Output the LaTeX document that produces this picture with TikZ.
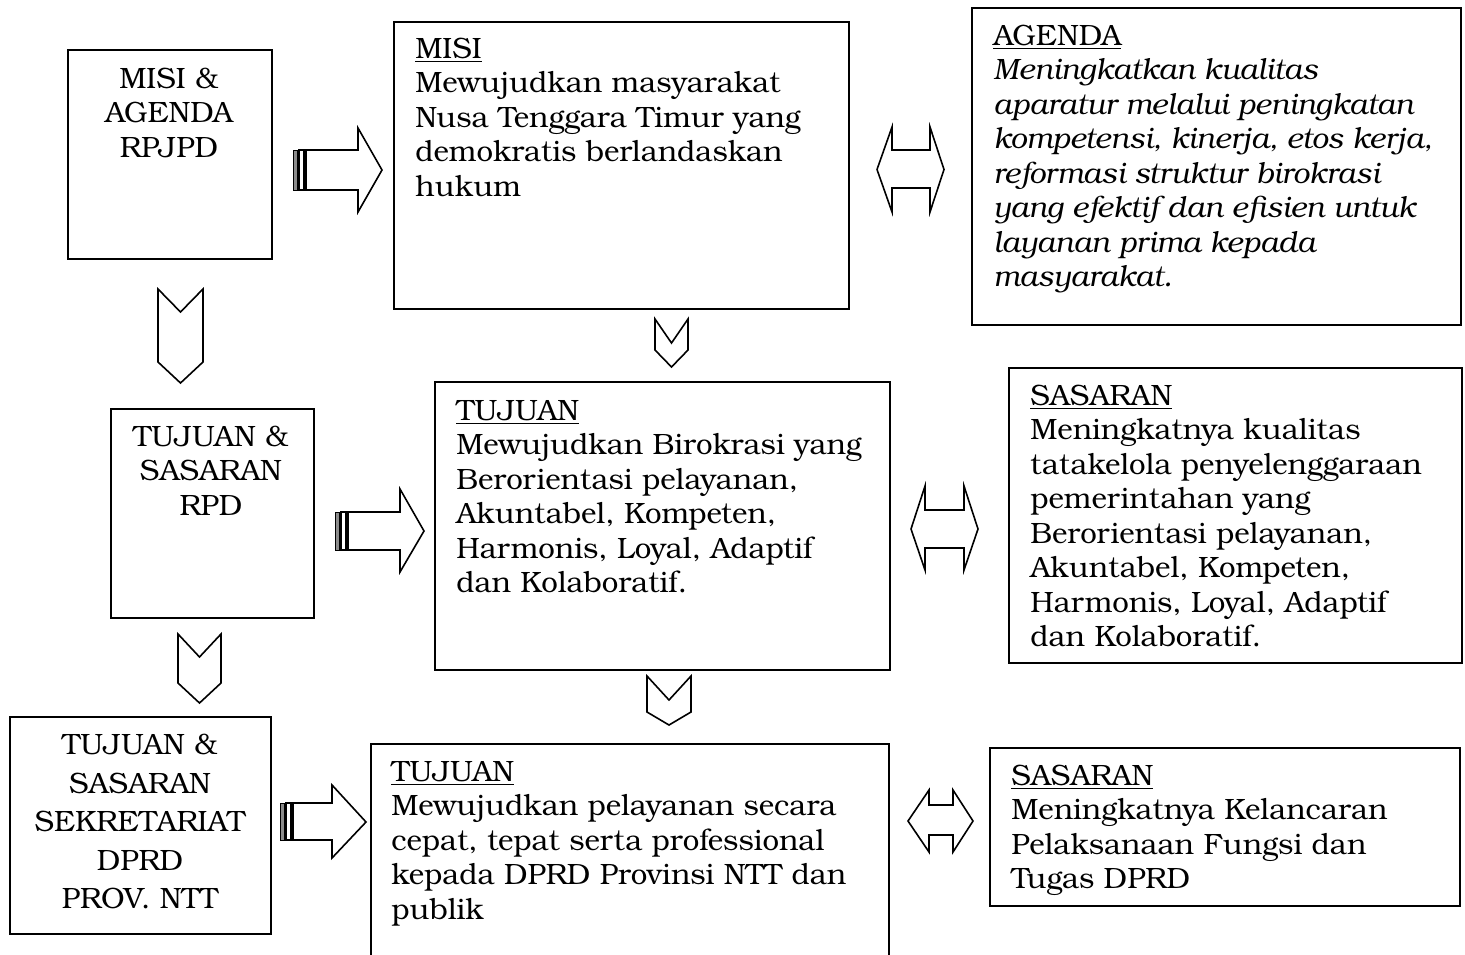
\documentclass[tikz,border=0pt]{standalone}
\usepackage{fontspec}
\setmainfont{texgyrebonum}[Extension=.otf, UprightFont=*-regular, ItalicFont=*-italic, BoldFont=*-bold, BoldItalicFont=*-bolditalic]
\newcommand\mybox[5]{\node[box,anchor=north west,inner sep=0pt,minimum width={(#4-#2)*0.5pt},minimum height={(#5-#3)*0.5pt}] (#1) at (#2,#3) {};}
\newcommand\stripearrow[9]{%
  \draw[stripe] (#1,#3) rectangle ({#1+4},#4);
  \draw[blk] ({#1+6},#3) rectangle ({#1+11},#4);
  \draw[blk] ({#1+13},#3) -- (#5,#3) -- (#5,#6) -- (#8,#9) -- (#5,#7) -- (#5,#4) -- ({#1+13},#4) -- cycle;}
\newcommand\dblarrow[9]{%
  \draw[blk] (#1,#3) -- (#4,#6) -- (#4,#8) -- (#5,#8) -- (#5,#6) -- (#2,#3) -- (#5,#7) -- (#5,#9) -- (#4,#9) -- (#4,#7) -- cycle;}
\newcommand\chev[7]{%
  \draw[blk] (#1,#4) -- (#3,#5) -- (#2,#4) -- (#2,#6) -- (#3,#7) -- (#1,#6) -- cycle;}
\begin{document}
\begin{tikzpicture}[x=0.5pt,y=-0.5pt,
  box/.style={draw, line width=1pt},
  blk/.style={draw, line width=0.8pt, line join=miter, fill=white},
  stripe/.style={draw, line width=0.5pt, fill=black!45},
  txt/.style={anchor=north west, inner sep=0pt, yshift=12.075pt, align=left, font=\fontsize{14.7}{17.25}\selectfont},
  ctxt/.style={anchor=north, inner sep=0pt, yshift=12.075pt, align=center, font=\fontsize{14.7}{17.25}\selectfont},
  ctxtw/.style={anchor=north, inner sep=0pt, yshift=13.51pt, align=center, font=\fontsize{14.7}{19.3}\selectfont}]
\useasboundingbox (0,0) rectangle (1465,954);
\clip (0,0) rectangle (1465,954);
% boxes
\mybox{rpjpd}{67}{49}{271}{258}
\mybox{misi}{393}{21}{848}{308}
\mybox{agenda}{971}{7}{1460}{324}
\mybox{rpd}{110}{408}{313}{617}
\mybox{tujuan}{434}{381}{889}{669}
\mybox{sasaran}{1008}{367}{1461}{662}
\mybox{sekret}{9}{716}{270}{933}
\mybox{tujuanb}{370}{743}{888}{980}
\mybox{sasaranb}{989}{747}{1459}{905}
% texts
\node[ctxt] (t-rpjpd) at (169,88) {\strut MISI \&\\AGENDA\\RPJPD};
\node[txt] (t-misi) at (415,58) {\strut\underline{MISI}\\Mewujudkan masyarakat\\Nusa Tenggara Timur yang\\demokratis berlandaskan\\hukum};
\node[txt] (t-agenda) at (993,45) {\strut\underline{AGENDA}\\\itshape Meningkatkan kualitas\\\itshape aparatur melalui peningkatan\\\itshape kompetensi, kinerja, etos kerja,\\\itshape reformasi struktur birokrasi\\\itshape yang efektif dan efisien untuk\\\itshape layanan prima kepada\\\itshape masyarakat.};
\node[ctxt] (t-rpd) at (211,446) {\strut TUJUAN \&\\SASARAN\\RPD};
\node[txt] (t-tujuan) at (456,420) {\strut\underline{TUJUAN}\\Mewujudkan Birokrasi yang\\Berorientasi pelayanan,\\Akuntabel, Kompeten,\\Harmonis, Loyal, Adaptif\\dan Kolaboratif.};
\node[txt] (t-sasaran) at (1030,405) {\strut\underline{SASARAN}\\Meningkatnya kualitas\\tatakelola penyelenggaraan\\pemerintahan yang\\Berorientasi pelayanan,\\Akuntabel, Kompeten,\\Harmonis, Loyal, Adaptif\\dan Kolaboratif.};
\node[ctxtw] (t-sekret) at (140,754) {\strut TUJUAN \&\\SASARAN\\SEKRETARIAT\\DPRD\\PROV. NTT};
\node[txt] (t-tujuanb) at (391,781) {\strut\underline{TUJUAN}\\Mewujudkan pelayanan secara\\cepat, tepat serta professional\\kepada DPRD Provinsi NTT dan\\publik};
\node[txt] (t-sasaranb) at (1011,785) {\strut\underline{SASARAN}\\Meningkatnya Kelancaran\\Pelaksanaan Fungsi dan\\Tugas DPRD};
% striped right arrows
\stripearrow{293}{0}{150}{190}{358}{128}{212}{382}{170}
\stripearrow{335}{0}{512}{550}{400}{489}{572}{424}{531}
\stripearrow{280}{0}{803}{840}{332}{785}{858}{366}{822}
% double arrows
\dblarrow{877}{944}{169.5}{892}{930}{127}{212}{150}{188}
\dblarrow{911}{978}{529}{925}{964}{486}{570}{510}{548}
\dblarrow{908}{973}{821}{929}{953}{790}{852}{805}{835}
% chevrons
\chev{158}{203}{180.5}{289}{312}{362}{383}
\chev{655}{688}{671.5}{319}{343}{350}{367}
\chev{178}{221}{199.5}{634}{657}{683}{703}
\chev{647}{691}{669}{676}{700}{712}{725}
\end{tikzpicture}
\end{document}
